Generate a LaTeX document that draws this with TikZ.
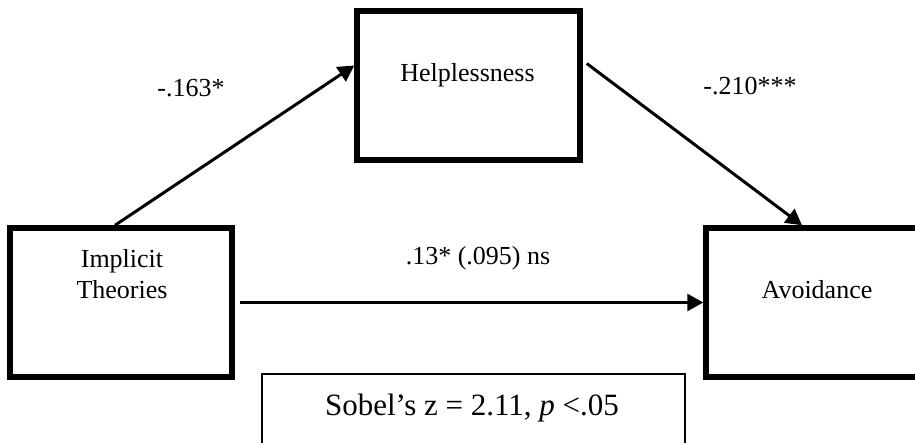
\documentclass[tikz,border=0pt]{standalone}
\usepackage{fontspec}
\setmainfont{Liberation Serif}
\usetikzlibrary{arrows.meta,calc}
\begin{document}
\begin{tikzpicture}[x=1pt,y=-1pt,
  bigbox/.style={draw=black,line width=5.5pt,fill=none,inner sep=0pt},
  thinbox/.style={draw=black,line width=1.5pt,inner sep=0pt},
  lbl/.style={font=\fontsize{26}{30}\selectfont,inner sep=0pt,anchor=base},
  arr/.style={line width=3pt,-{Triangle[length=16pt,width=17pt]}}]
\useasboundingbox (0,0) rectangle (915,443);
\clip (0,0) rectangle (915,443);
% boxes
\node[bigbox,minimum width=222pt,minimum height=149pt] (imp) at (121,302.5) {};
\node[bigbox,minimum width=223pt,minimum height=149pt] (help) at (468.5,85.5) {};
\node[bigbox,minimum width=230pt,minimum height=149pt] (avo) at (821,302.5) {};
\node[thinbox,minimum width=423pt,minimum height=100pt] (sobel) at (473.5,424) {};
% texts
\node[lbl] (impt1) at (122,268) {Implicit};
\node[lbl] (impt2) at (122,299) {Theories};
\node[lbl] (helpt) at (467.5,82) {Helplessness};
\node[lbl] (avot) at (817,299) {Avoidance};
\node[lbl] (a) at (191,97) {-.163*};
\node[lbl] (b) at (750,95) {-.210***};
\node[lbl] (c) at (478,265) {.13* (.095) ns};
\node[font=\fontsize{31}{36}\selectfont,inner sep=0pt,anchor=base] (sobelt) at (472,415) {Sobel’s z = 2.11, \textit{p} <.05};
% connectors
\draw[arr] ([xshift=-6pt]imp.north) -- ([yshift=20pt]help.west);
\draw[arr] ([xshift=4pt,yshift=22pt]help.east) -- ([xshift=-19pt]avo.north);
\draw[arr] ([xshift=5pt]imp.east) -- (avo.west);
\end{tikzpicture}
\end{document}
